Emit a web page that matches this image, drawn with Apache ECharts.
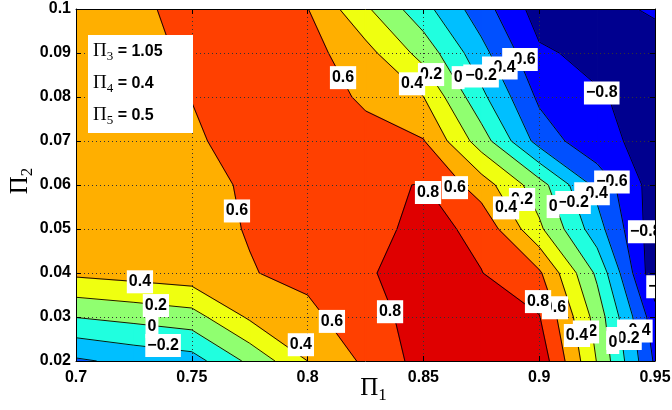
<!DOCTYPE html>
<html><head><meta charset="utf-8">
<script src="https://cdn.jsdelivr.net/npm/echarts@6/dist/echarts.min.js"></script>
<style>html,body{margin:0;padding:0;background:#fff}#c{width:672px;height:410px}</style>
</head><body><div id="c"></div>
<script>
// ---- data ----
const pi1Values = [0.7, 0.725, 0.75, 0.775, 0.8, 0.825, 0.85, 0.875, 0.9, 0.925, 0.95];
const pi2Values = [0.02, 0.03, 0.04, 0.05, 0.06, 0.07, 0.08, 0.09, 0.1];
const row002 = [-0.43, -0.346, -0.285, 0.045, 0.40, 0.636, 0.877, 0.92, 0.93, 0.19, -0.63];
const row003 = [0.005, 0.06, 0.118, 0.43, 0.55, 0.72, 0.88, 0.90, 0.81, 0.116, -0.72];
const row004 = [0.44, 0.48, 0.52, 0.59, 0.65, 0.78, 0.88, 0.805, 0.63, -0.04, -0.95];
const row005 = [0.47, 0.50, 0.54, 0.61, 0.68, 0.72, 0.867, 0.75, 0.24, -0.32, -0.92];
const row006 = [0.50, 0.52, 0.55, 0.62, 0.70, 0.76, 0.81, 0.50, 0.086, -0.46, -0.90];
const row007 = [0.50, 0.53, 0.585, 0.64, 0.70, 0.68, 0.61, 0.10, -0.48, -0.75, -0.86];
const row008 = [0.51, 0.55, 0.602, 0.68, 0.72, 0.563, 0.403, -0.15, -0.638, -0.78, -0.88];
const row009 = [0.53, 0.56, 0.62, 0.66, 0.673, 0.47, 0.125, -0.336, -0.77, -0.856, -0.90];
const row010 = [0.55, 0.58, 0.63, 0.65, 0.605, 0.233, -0.132, -0.512, -0.89, -0.87, -0.77];
const contourLevels = [-0.8, -0.6, -0.4, -0.2, 0, 0.2, 0.4, 0.6, 0.8];
const bandColors = ['#00008F', '#0000FF', '#0050FF', '#00BFFF', '#20FFDF', '#90FF70', '#EFFF10', '#FFAF00', '#FF4000', '#DF0000'];
const pi1TickLabels = ['0.7', '0.75', '0.8', '0.85', '0.9', '0.95'];
const pi2TickLabels = ['0.02', '0.03', '0.04', '0.05', '0.06', '0.07', '0.08', '0.09', '0.1'];
// contour labels (in data units), drawn in ascending level order
const labelLevel = [-0.8, -0.8, -0.6, -0.6, -0.6, -0.4, -0.4, -0.4, -0.2, -0.2, -0.2, -0.2, 0, 0, 0, 0, 0.2, 0.2, 0.2, 0.2, 0.4, 0.4, 0.4, 0.4, 0.4, 0.6, 0.6, 0.6, 0.6, 0.6, 0.8, 0.8, 0.8];
const labelPi1 = [0.927, 0.946, 0.8917, 0.9314, 0.9539, 0.883, 0.9228, 0.9413, 0.8749, 0.9146, 0.7376, 0.9366, 0.865, 0.906, 0.7328, 0.9318, 0.8533, 0.8926, 0.7345, 0.9202, 0.8451, 0.8857, 0.7276, 0.7971, 0.9163, 0.8153, 0.7695, 0.8636, 0.8105, 0.9068, 0.852, 0.8356, 0.8995];
const labelPi2 = [0.0809, 0.0494, 0.0885, 0.0607, 0.0369, 0.0866, 0.058, 0.0268, 0.0848, 0.056, 0.0235, 0.0251, 0.0844, 0.0551, 0.0278, 0.0242, 0.0851, 0.0567, 0.0326, 0.0266, 0.083, 0.0548, 0.038, 0.0237, 0.0258, 0.0844, 0.0541, 0.0594, 0.029, 0.0321, 0.0583, 0.0312, 0.0335];
const legendLines = [['3', '1.05'], ['4', '0.4'], ['5', '0.5']];

// ---- build ----
const zGrid = [row002, row003, row004, row005, row006, row007, row008, row009, row010];
const cells = [];
for (let j = 0; j < pi2Values.length - 1; j++)
  for (let i = 0; i < pi1Values.length - 1; i++)
    cells.push([(pi1Values[i] + pi1Values[i + 1]) / 2, (pi2Values[j] + pi2Values[j + 1]) / 2, i, j]);
const bandCells = [];
for (let k = 0; k < bandColors.length; k++) cells.forEach(c => bandCells.push([c[0], c[1], c[2], c[3], k]));

function corners(api, i, j) {
  return [[i, j], [i + 1, j], [i + 1, j + 1], [i, j + 1]].map(([a, b]) => ({ p: api.coord([pi1Values[a], pi2Values[b]]), v: zGrid[b][a] }));
}
function clipPoly(pts, lo) {
  const out = [];
  for (let n = 0; n < pts.length; n++) {
    const A = pts[n], B = pts[(n + 1) % pts.length];
    const aIn = A.v >= lo, bIn = B.v >= lo;
    if (aIn) out.push(A);
    if (aIn !== bIn) {
      const t = (lo - A.v) / (B.v - A.v);
      out.push({ p: [A.p[0] + t * (B.p[0] - A.p[0]), A.p[1] + t * (B.p[1] - A.p[1])], v: lo });
    }
  }
  return out;
}
function fillItem(params, api) {
  const c = corners(api, api.value(2), api.value(3));
  const k = api.value(4);
  const poly = k === 0 ? c : clipPoly(c, contourLevels[k - 1]);
  if (poly.length < 3) return { type: 'group', children: [] };
  return { type: 'polygon', shape: { points: poly.map(q => q.p) }, style: { fill: bandColors[k], stroke: bandColors[k], lineWidth: 1.2, lineJoin: 'round' } };
}
function lineItem(params, api) {
  const c = corners(api, api.value(2), api.value(3));
  const children = [];
  contourLevels.forEach(L => {
    const xs = [];
    for (let n = 0; n < 4; n++) {
      const A = c[n], B = c[(n + 1) % 4];
      const aIn = A.v >= L, bIn = B.v >= L;
      if (aIn !== bIn) {
        const t = (L - A.v) / (B.v - A.v);
        xs.push({ exit: aIn, p: [A.p[0] + t * (B.p[0] - A.p[0]), A.p[1] + t * (B.p[1] - A.p[1])] });
      }
    }
    for (let k = 0; k < xs.length; k++) {
      if (xs[k].exit) {
        const nxt = xs[(k + 1) % xs.length];
        children.push({ type: 'line', shape: { x1: xs[k].p[0], y1: xs[k].p[1], x2: nxt.p[0], y2: nxt.p[1] }, style: { stroke: '#000', lineWidth: 0.9 } });
      }
    }
  });
  return { type: 'group', children };
}
function fmtLevel(v) { return v < 0 ? '\u2212' + String(-v) : String(v); }
const labelData = labelLevel.map((lv, k) => [labelPi1[k], labelPi2[k], lv]);

const SANS = '"Liberation Sans", Arial, Helvetica, sans-serif';
const SERIF = '"Liberation Serif", "Times New Roman", serif';
const axisNameRich = {
  p: { fontFamily: SERIF, fontSize: 25, color: '#000' },
  s: { fontFamily: SERIF, fontSize: 17, color: '#000', padding: [14, 0, 0, 0] }
};
function mkX(pos, main) {
  return {
    type: 'value', gridIndex: 0, position: pos, min: 0.7, max: 0.95, interval: 0.05, z: 3,
    axisLine: { show: true, onZero: false, lineStyle: { color: '#000', width: 1 } },
    axisTick: { show: true, inside: true, length: 5, lineStyle: { color: '#000' } },
    axisLabel: { show: main, color: '#000', fontSize: 16, fontWeight: 'bold', fontFamily: SANS, margin: 9,
      formatter: v => pi1TickLabels[Math.round((v - 0.7) / 0.05)] },
    splitLine: { show: main, lineStyle: { color: '#333', type: [1, 3], width: 1 } },
    name: main ? '{p|\u03A0}{s|1}' : '', nameLocation: 'middle', nameGap: 12, nameMoveOverlap: false,
    nameTextStyle: { rich: axisNameRich, padding: [0, 0, 0, 16] }
  };
}
function mkY(pos, main) {
  return {
    type: 'value', gridIndex: 0, position: pos, min: 0.02, max: 0.1, interval: 0.01, z: 3,
    axisLine: { show: true, onZero: false, lineStyle: { color: '#000', width: 1 } },
    axisTick: { show: true, inside: true, length: 5, lineStyle: { color: '#000' } },
    axisLabel: { show: main, color: '#000', fontSize: 16, fontWeight: 'bold', fontFamily: SANS, margin: 5,
      formatter: v => pi2TickLabels[Math.round((v - 0.02) / 0.01)] },
    splitLine: { show: main, lineStyle: { color: '#333', type: [1, 3], width: 1 } },
    name: main ? '{p|\u03A0}{s|2}' : '', nameLocation: 'middle', nameGap: 40, nameMoveOverlap: false,
    nameTextStyle: { rich: axisNameRich, padding: [0, 0, 0, 8] }
  };
}
const legendRich = {
  p: { fontFamily: SERIF, fontSize: 19, color: '#000' },
  s: { fontFamily: SERIF, fontSize: 13, color: '#000', padding: [11, 0, 0, 0] },
  t: { fontFamily: SANS, fontSize: 16, fontWeight: 'bold', color: '#000' }
};
const graphics = [{ type: 'rect', left: 88, top: 35, z: 20, shape: { width: 105, height: 98 }, style: { fill: '#fff' } }];
legendLines.forEach((ln, k) => {
  graphics.push({ type: 'text', left: 93, top: 42 + k * 32, z: 21,
    style: { text: '{p|\u03A0}{s|' + ln[0] + '}{t| = ' + ln[1] + '}', rich: legendRich } });
});

const chart = echarts.init(document.getElementById('c'), null, { renderer: 'canvas' });
chart.setOption({
  animation: false,
  backgroundColor: '#fff',
  grid: { left: 76, right: 17, top: 9, bottom: 49, containLabel: false, outerBoundsMode: 'none' },
  xAxis: [mkX('bottom', true), mkX('top', false)],
  yAxis: [mkY('left', true), mkY('right', false)],
  graphic: graphics,
  series: [
    { type: 'custom', coordinateSystem: 'cartesian2d', xAxisIndex: 0, yAxisIndex: 0, z: 1, clip: true, renderItem: fillItem, data: bandCells, silent: true },
    { type: 'custom', coordinateSystem: 'cartesian2d', xAxisIndex: 0, yAxisIndex: 0, z: 2, clip: true, renderItem: lineItem, data: cells, silent: true },
    { type: 'custom', coordinateSystem: 'cartesian2d', xAxisIndex: 0, yAxisIndex: 0, z: 10, clip: true, silent: true, data: labelData,
      renderItem: (params, api) => {
        const pt = api.coord([api.value(0), api.value(1)]);
        return { type: 'text', x: pt[0], y: pt[1],
          style: { text: fmtLevel(api.value(2)), fill: '#000', font: 'bold 16px ' + SANS, align: 'center', verticalAlign: 'middle',
            backgroundColor: '#fff', padding: [4, 2, 3, 2] } };
      } }
  ]
});
</script></body></html>
